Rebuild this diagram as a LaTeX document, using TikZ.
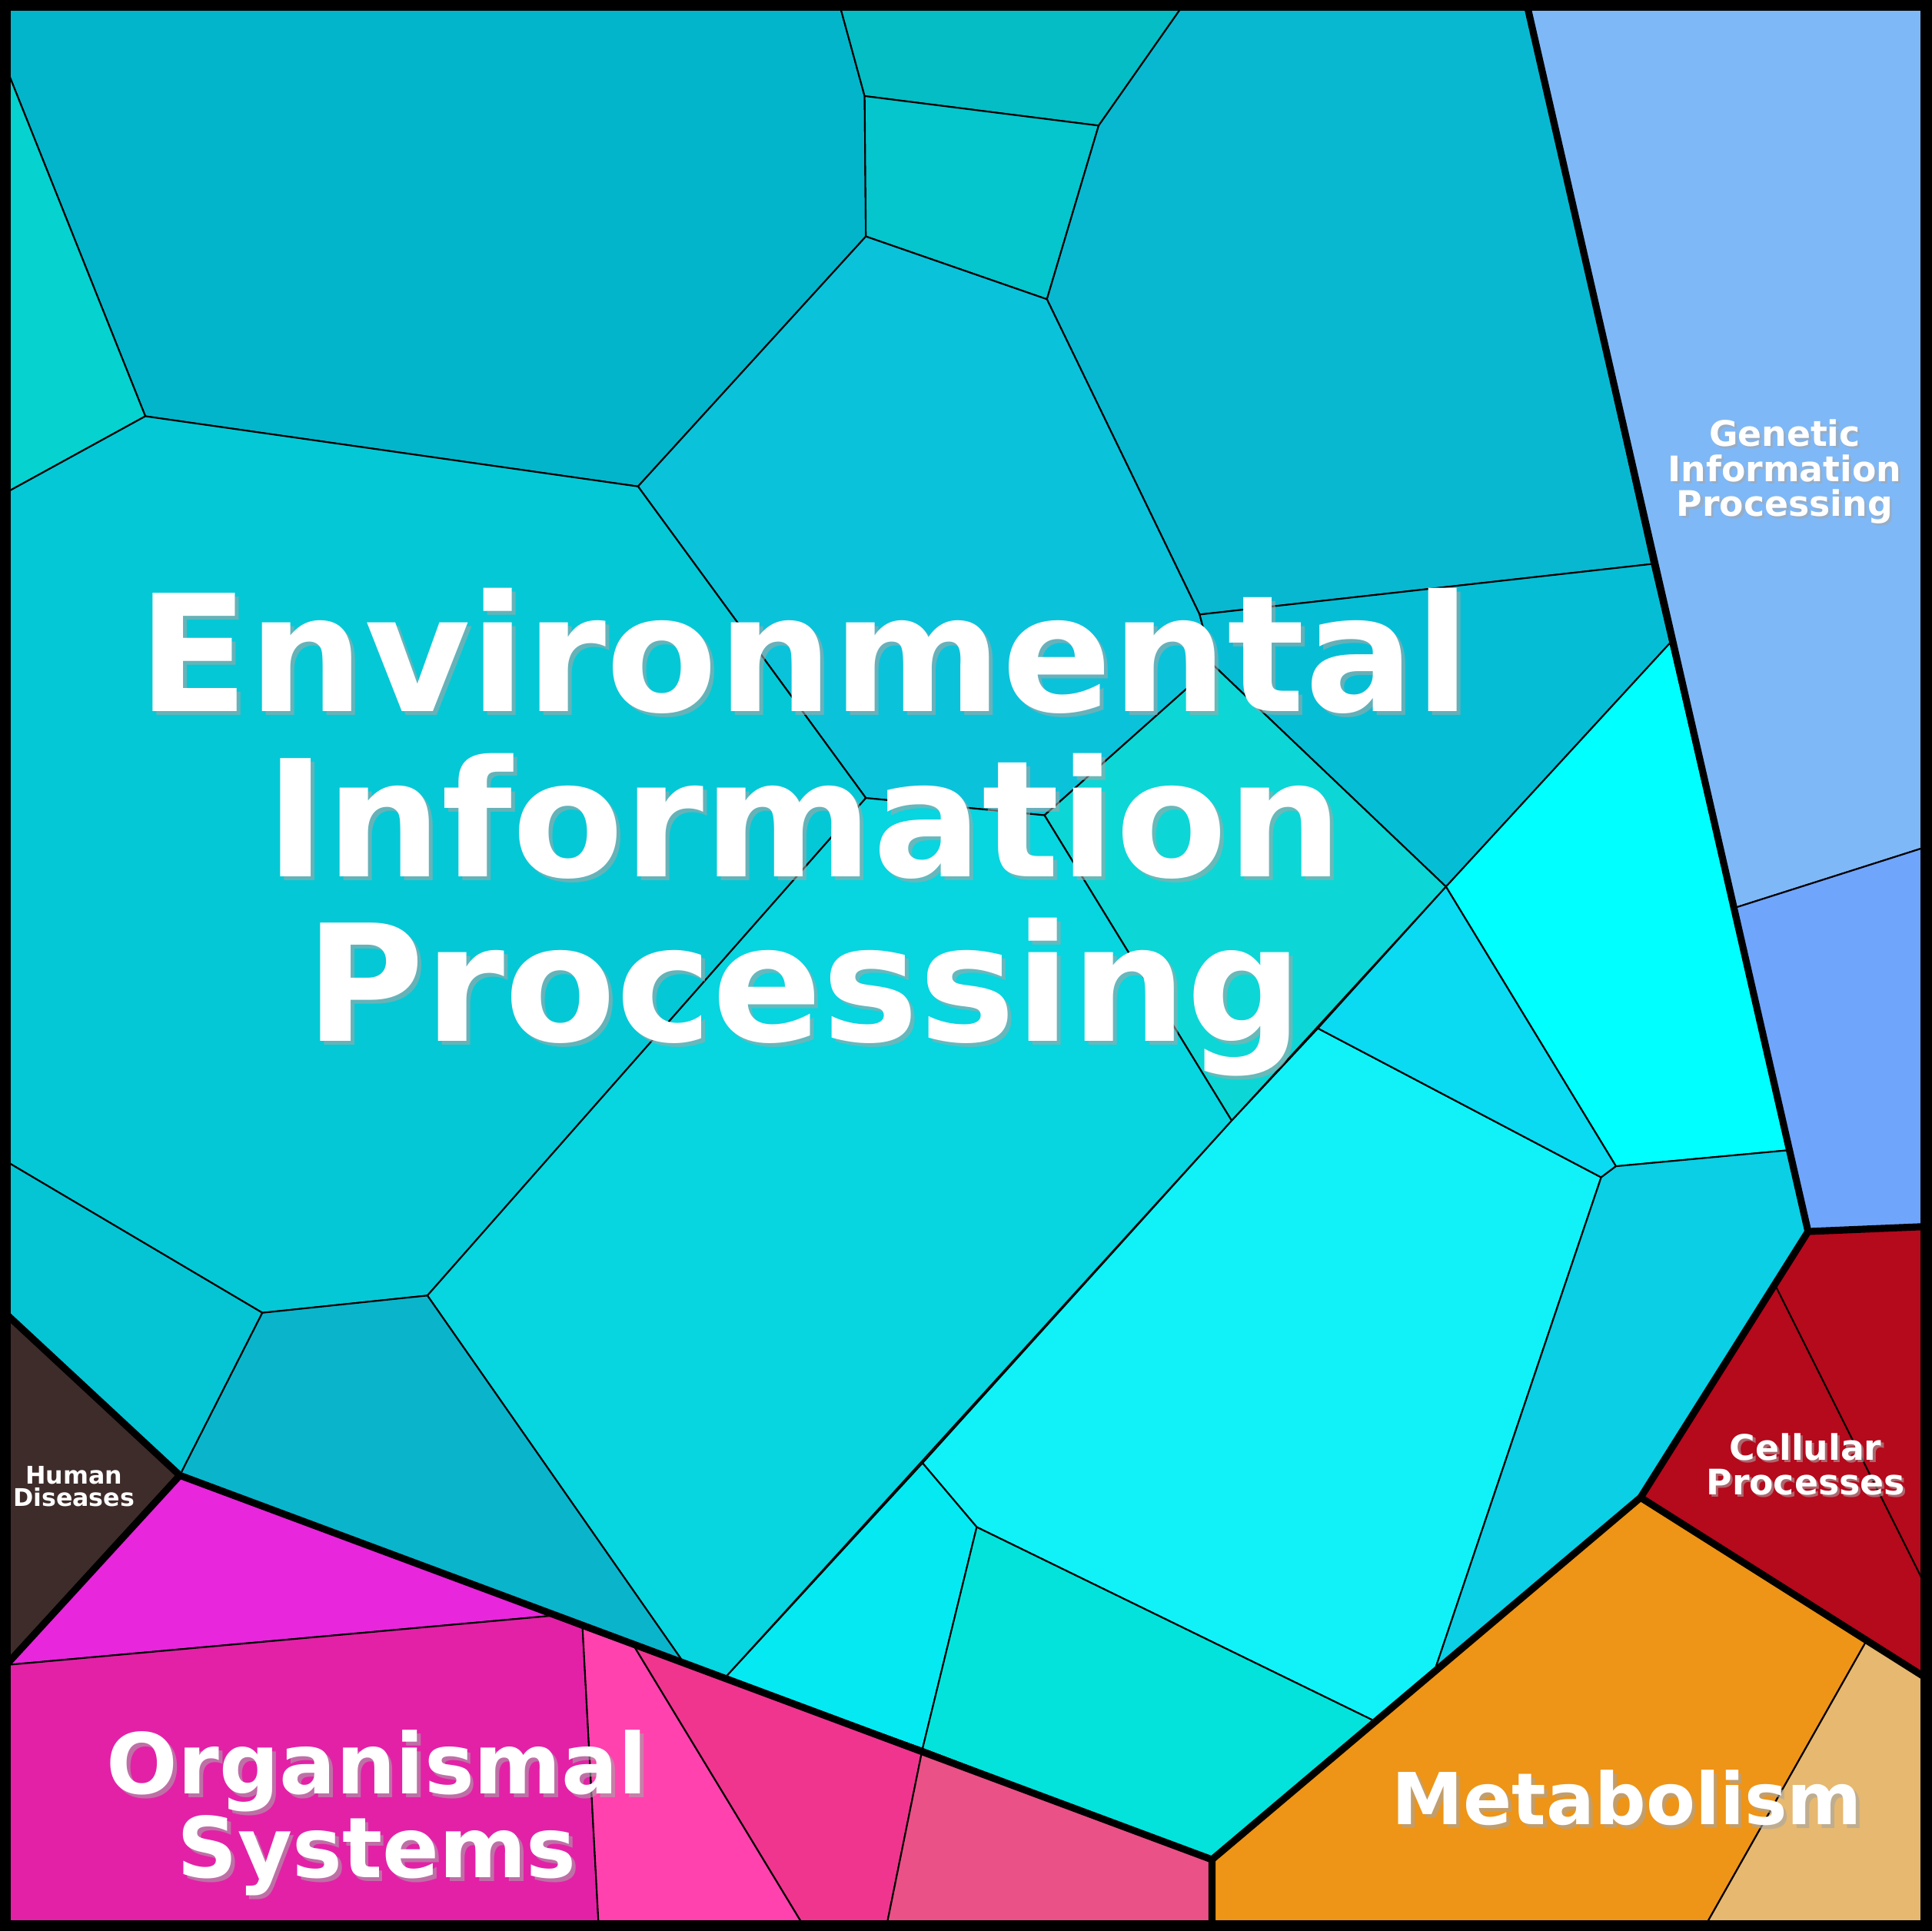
\documentclass[tikz,border=0pt]{standalone}
\usepackage{fontspec}
\setmainfont{DejaVu Sans}
\definecolor{cA}{HTML}{03B5CA}\definecolor{cB}{HTML}{06D2D0}\definecolor{cC}{HTML}{05BDC4}
\definecolor{cD}{HTML}{05C5CD}\definecolor{cE}{HTML}{08B8D0}\definecolor{cF}{HTML}{0BC2DB}
\definecolor{cG}{HTML}{05BED5}\definecolor{cH}{HTML}{0DD6D6}\definecolor{cI}{HTML}{05C8D6}
\definecolor{cJ}{HTML}{07D5E0}\definecolor{cK}{HTML}{05C5D5}\definecolor{cL}{HTML}{0AB5CC}
\definecolor{cM}{HTML}{10F2F8}\definecolor{cN}{HTML}{00FFFF}\definecolor{cO}{HTML}{0ADBF2}
\definecolor{cP}{HTML}{0ACFE5}\definecolor{cQ}{HTML}{05EAF2}\definecolor{cR}{HTML}{03E3DC}
\definecolor{gen}{HTML}{7FB8F7}\definecolor{genB}{HTML}{70A5FC}\definecolor{cel}{HTML}{B5091C}
\definecolor{met}{HTML}{EE9417}\definecolor{metB}{HTML}{E6B870}\definecolor{hum}{HTML}{3E2C2A}
\definecolor{orgA}{HTML}{E826DC}\definecolor{orgB}{HTML}{E321A7}\definecolor{orgC}{HTML}{FF42AE}
\definecolor{orgD}{HTML}{F0358F}\definecolor{orgE}{HTML}{EA5186}
\tikzset{
  cell/.style={draw=black, line width=0.6pt, line join=round},
  group/.style={draw=black, line width=2.6pt, line join=round},
  shadow/.style={text=black!35, opacity=0.6, font=\bfseries, align=center},
  label/.style={text=white, font=\bfseries, align=center}
}
\begin{document}
\begin{tikzpicture}[x=0.016cm, y=-0.016cm]
\useasboundingbox (0,0) rectangle (1568,1568);
% environmental information processing
\path[cell, fill=cA] (5,5) -- (682,5) -- (702,78) -- (703,192) -- (518,395) -- (118,338) -- (5,55) -- cycle;
\path[cell, fill=cB] (5,55) -- (118,338) -- (5,400) -- cycle;
\path[cell, fill=cC] (682,5) -- (960,5) -- (892,102) -- (702,78) -- cycle;
\path[cell, fill=cD] (702,78) -- (892,102) -- (850,243) -- (703,192) -- cycle;
\path[cell, fill=cE] (960,5) -- (1240,5) -- (1341,458) -- (974,499) -- (850,243) -- (892,102) -- cycle;
\path[cell, fill=cF] (518,395) -- (703,192) -- (850,243) -- (974,499) -- (985,540) -- (848,662) -- (703,648) -- cycle;
\path[cell, fill=cG] (974,499) -- (1341,458) -- (1356,522) -- (1174,720) -- (985,540) -- cycle;
\path[cell, fill=cH] (985,540) -- (1174,720) -- (1000,910) -- (848,662) -- cycle;
\path[cell, fill=cI] (5,400) -- (118,338) -- (518,395) -- (703,648) -- (347,1052) -- (213,1066) -- (5,943) -- cycle;
\path[cell, fill=cJ] (703,648) -- (848,662) -- (1000,910) -- (589,1362) -- (555,1350) -- (347,1052) -- cycle;
\path[cell, fill=cK] (5,943) -- (213,1066) -- (146,1198) -- (5,1067) -- cycle;
\path[cell, fill=cL] (213,1066) -- (347,1052) -- (555,1350) -- (146,1198) -- cycle;
\path[cell, fill=cM] (1000,910) -- (1070,835) -- (1300,956) -- (1165,1356) -- (1115,1397) -- (793,1240) -- (749,1188) -- cycle;
\path[cell, fill=cN] (1174,720) -- (1356,522) -- (1452,934) -- (1312,947) -- cycle;
\path[cell, fill=cO] (1070,835) -- (1174,720) -- (1312,947) -- (1300,956) -- cycle;
\path[cell, fill=cP] (1300,956) -- (1312,947) -- (1452,934) -- (1468,1000) -- (1332,1216) -- (1165,1356) -- cycle;
\path[cell, fill=cQ] (589,1362) -- (749,1188) -- (793,1240) -- (749,1420) -- cycle;
\path[cell, fill=cR] (749,1420) -- (793,1240) -- (1115,1397) -- (984,1510) -- cycle;
% genetic information processing
\path[cell, fill=gen] (1240,5) -- (1563,5) -- (1563,688) -- (1409,737) -- cycle;
\path[cell, fill=genB] (1409,737) -- (1563,688) -- (1563,996) -- (1468,1000) -- cycle;
% cellular processes
\path[cell, fill=cel] (1468,1000) -- (1563,996) -- (1563,1362) -- (1332,1216) -- cycle;
\draw[cell] (1441,1043) -- (1563,1287);
% metabolism
\path[cell, fill=met] (984,1510) -- (1332,1216) -- (1515,1333) -- (1385,1563) -- (984,1563) -- cycle;
\path[cell, fill=metB] (1515,1333) -- (1563,1362) -- (1563,1563) -- (1385,1563) -- cycle;
% human diseases
\path[cell, fill=hum] (5,1067) -- (146,1198) -- (5,1352) -- cycle;
% organismal systems
\path[cell, fill=orgA] (146,1198) -- (448,1312) -- (5,1352) -- cycle;
\path[cell, fill=orgB] (5,1352) -- (448,1312) -- (473,1322) -- (486,1563) -- (5,1563) -- cycle;
\path[cell, fill=orgC] (473,1322) -- (515,1337) -- (652,1563) -- (486,1563) -- cycle;
\path[cell, fill=orgD] (515,1337) -- (749,1420) -- (720,1563) -- (652,1563) -- cycle;
\path[cell, fill=orgE] (749,1420) -- (984,1510) -- (984,1563) -- (720,1563) -- cycle;
% group borders
\draw[group] (1240,5) -- (1468,1000) -- (1563,996);
\draw[group] (1468,1000) -- (1332,1216) -- (1563,1362);
\draw[group] (1332,1216) -- (984,1510) -- (984,1563);
\draw[group] (984,1510) -- (146,1198) -- (5,1067);
\draw[group] (146,1198) -- (5,1352);
\draw[line width=5pt] (3,3) rectangle (1565,1565);
% labels
\node[shadow, font=\bfseries\fontsize{60}{61}\selectfont] (envS) at (656,679) {Environmental\\Information\\Processing};
\node[label, font=\bfseries\fontsize{60}{61}\selectfont] (env) at (653,676) {Environmental\\Information\\Processing};
\node[shadow, font=\bfseries\fontsize{13}{13}\selectfont] (genS) at (1451,385) {Genetic\\Information\\Processing};
\node[label, font=\bfseries\fontsize{13}{13}\selectfont] (genL) at (1449,383) {Genetic\\Information\\Processing};
\node[shadow, font=\bfseries\fontsize{13}{13}\selectfont] (celS) at (1468,1191) {Cellular\\Processes};
\node[label, font=\bfseries\fontsize{13}{13}\selectfont] (celL) at (1466,1189) {Cellular\\Processes};
\node[label, font=\bfseries\fontsize{9}{8.5}\selectfont] (humL) at (60,1207) {Human\\Diseases};
\node[shadow, font=\bfseries\fontsize{31}{31}\selectfont] (orgS) at (309,1475) {Organismal\\Systems};
\node[label, font=\bfseries\fontsize{31}{31}\selectfont] (orgL) at (306,1472) {Organismal\\Systems};
\node[shadow, font=\bfseries\fontsize{26.5}{27}\selectfont] (metS) at (1324,1463) {Metabolism};
\node[label, font=\bfseries\fontsize{26.5}{27}\selectfont] (metL) at (1321,1460) {Metabolism};
\end{tikzpicture}
\end{document}
